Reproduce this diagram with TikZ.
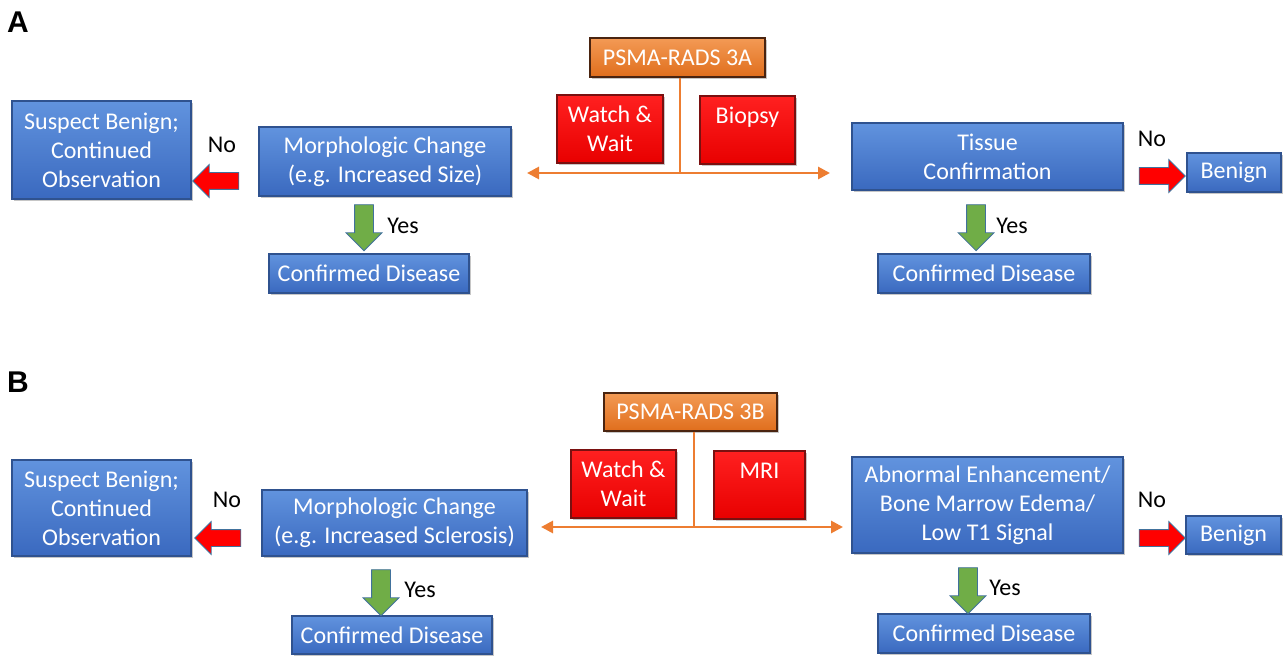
\documentclass[tikz,border=0pt]{standalone}
\usepackage{fontspec}
\setmainfont{Carlito}
\newfontfamily\labfont{Liberation Sans}
\usetikzlibrary{shapes.arrows,shadows,arrows.meta}
\definecolor{bluetop}{HTML}{6193DE}
\definecolor{bluebot}{HTML}{3A69BF}
\definecolor{blueedge}{HTML}{2F528F}
\definecolor{redtop}{HTML}{FF2020}
\definecolor{redbot}{HTML}{E80000}
\definecolor{rededge}{HTML}{7A1010}
\definecolor{ortop}{HTML}{F39A55}
\definecolor{orbot}{HTML}{E06E1C}
\definecolor{oredge}{HTML}{4A2410}
\definecolor{orline}{HTML}{ED7D31}
\definecolor{greenfill}{HTML}{70AD47}
\definecolor{greenedge}{HTML}{41719C}
\tikzset{
  boxbase/.style={draw, line width=0.6pt, text=white, align=center, inner sep=0pt,
    font=\fontsize{12}{14.5}\selectfont,
    drop shadow={shadow xshift=1.2pt, shadow yshift=-1.2pt, opacity=0.45}},
  bluebox/.style={boxbase, draw=blueedge, top color=bluetop, bottom color=bluebot},
  redbox/.style={boxbase, draw=rededge, top color=redtop, bottom color=redbot},
  orbox/.style={boxbase, draw=oredge, top color=ortop, bottom color=orbot},
  noarrow/.style={single arrow, draw=greenedge, fill=red, line width=0.4pt,
    minimum height=23pt, single arrow head extend=4pt, inner sep=0pt},
  yesarrow/.style={single arrow, draw=greenedge, fill=greenfill, line width=0.4pt,
    minimum height=23pt, single arrow head extend=4.25pt, inner sep=0pt, rotate=-90},
  lbl/.style={font=\fontsize{12}{13}\selectfont, text=black, inner sep=0pt},
  panel/.style={font=\labfont\bfseries\fontsize{15}{15}\selectfont, inner sep=0pt},
  orangeline/.style={draw=orline, line width=1.4pt},
  orangearrow/.style={orangeline, -{Triangle[length=6pt,width=6pt]}}
}
\newcommand{\shaftA}{\rule{0pt}{8pt}}
\newcommand{\shaftB}{\rule{0pt}{9pt}}
\begin{document}
\begin{tikzpicture}[x=0.5pt,y=-0.5pt]
\useasboundingbox (0,0) rectangle (1283,657);
% ---------------- Panel A ----------------
\node[panel] (labA) at (18,22) {A};
\node[orbox, minimum width=87.5pt, minimum height=19.5pt] (psmaA) at (677.5,57.5) {PSMA-RADS 3A};
\node[redbox, minimum width=53pt, minimum height=34pt] (wwA) at (610,129) {Watch \&\\Wait};
\node[redbox, minimum width=47.5pt, minimum height=34pt] (bioA) at (747.5,130) {Biopsy\\\phantom{W}};
\node[bluebox, minimum width=89.5pt, minimum height=49pt] (suspA) at (101.5,150) {Suspect Benign;\\Continued\\Observation};
\node[bluebox, minimum width=126pt, minimum height=34.5pt] (morphA) at (385,161.5) {Morphologic Change\\(e.g. Increased Size)};
\node[bluebox, minimum width=100pt, minimum height=19.5pt] (confA1) at (369,273.5) {Confirmed Disease};
\node[bluebox, minimum width=135.5pt, minimum height=33.5pt] (tissA) at (987.5,156.5) {Tissue\\Confirmation};
\node[bluebox, minimum width=47pt, minimum height=19.5pt] (benA) at (1234,172.5) {Benign};
\node[bluebox, minimum width=106pt, minimum height=19.5pt] (confA2) at (984,273.5) {Confirmed Disease};
\coordinate (jA) at (680,173);
\coordinate (lA) at (527,173);
\coordinate (rA) at (830,173);
\draw[orangeline] (psmaA.south -| jA) -- (jA);
\draw[orangearrow] (jA) -- (lA);
\draw[orangearrow] (jA) -- (rA);
\node[noarrow, rotate=180] (noA1) at (220,181) {\shaftA};
\node[noarrow] (noA2) at (1158,176) {\shaftA};
\node[yesarrow] (yesA1) at (364,223) {\shaftB};
\node[yesarrow] (yesA2) at (976,223) {\shaftB};
\node[lbl] (tnoA1) at (222,145) {No};
\node[lbl] (tnoA2) at (1152,139) {No};
\node[lbl] (tyesA1) at (403,226) {Yes};
\node[lbl] (tyesA2) at (1012,226) {Yes};
% ---------------- Panel B ----------------
\node[panel] (labB) at (18,382) {B};
\node[orbox, minimum width=86.5pt, minimum height=19pt] (psmaB) at (690.5,412) {PSMA-RADS 3B};
\node[redbox, minimum width=52.5pt, minimum height=34pt] (wwB) at (623.5,484) {Watch \&\\Wait};
\node[redbox, minimum width=45.5pt, minimum height=34pt] (mriB) at (759.5,485) {MRI\\\phantom{W}};
\node[bluebox, minimum width=89.5pt, minimum height=48pt] (suspB) at (101.5,508) {Suspect Benign;\\Continued\\Observation};
\node[bluebox, minimum width=132.5pt, minimum height=33pt] (morphB) at (394.5,523) {Morphologic Change\\(e.g. Increased Sclerosis)};
\node[bluebox, minimum width=100pt, minimum height=19pt] (confB1) at (392,635) {Confirmed Disease};
\node[bluebox, minimum width=135.5pt, minimum height=48pt] (abnB) at (987.5,505) {Abnormal Enhancement/\\Bone Marrow Edema/\\Low T1 Signal};
\node[bluebox, minimum width=47.5pt, minimum height=19pt] (benB) at (1233.5,535) {Benign};
\node[bluebox, minimum width=106pt, minimum height=19.5pt] (confB2) at (984,633.5) {Confirmed Disease};
\coordinate (jB) at (694,527);
\coordinate (lB) at (541,527);
\coordinate (rB) at (843,527);
\draw[orangeline] (psmaB.south -| jB) -- (jB);
\draw[orangearrow] (jB) -- (lB);
\draw[orangearrow] (jB) -- (rB);
\node[noarrow, rotate=180] (noB1) at (222,538) {\shaftA};
\node[noarrow] (noB2) at (1158,538) {\shaftA};
\node[yesarrow] (yesB1) at (381,588) {\shaftB};
\node[yesarrow] (yesB2) at (968,586) {\shaftB};
\node[lbl] (tnoB1) at (227,500) {No};
\node[lbl] (tnoB2) at (1152,500) {No};
\node[lbl] (tyesB1) at (420,590) {Yes};
\node[lbl] (tyesB2) at (1005,588) {Yes};
\end{tikzpicture}
\end{document}
